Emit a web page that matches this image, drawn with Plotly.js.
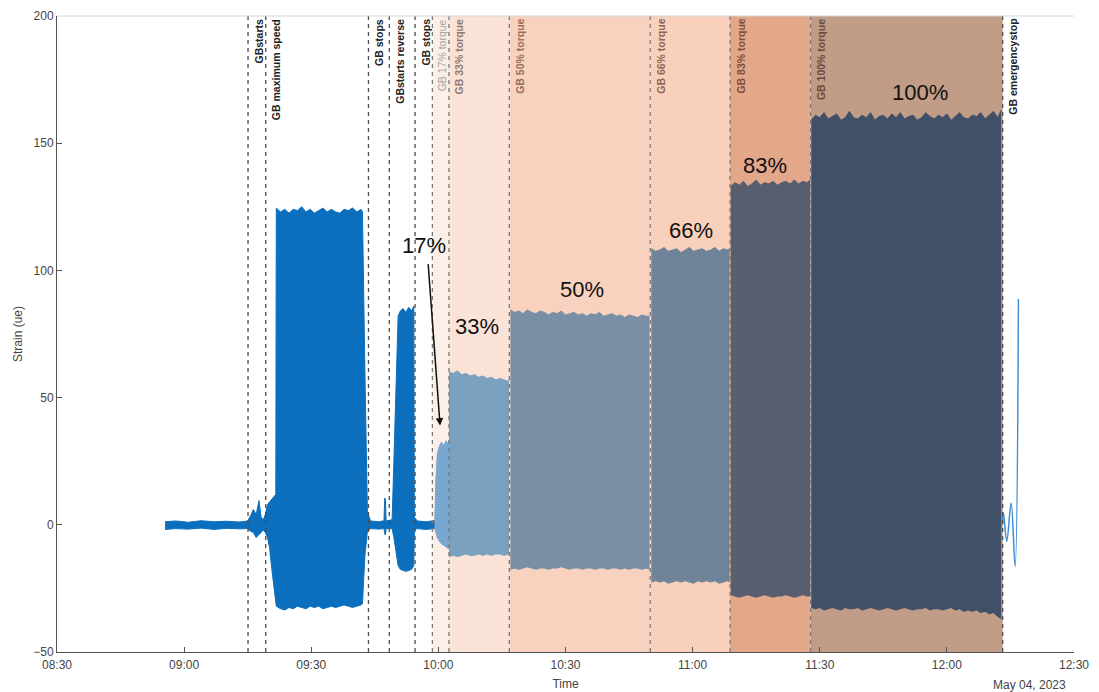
<!DOCTYPE html>
<html>
<head>
<meta charset="utf-8">
<script src="https://cdn.plot.ly/plotly-3.0.1.min.js"></script>
<style>html,body{margin:0;padding:0;background:#fff}#chart{width:1099px;height:692px}</style>
</head>
<body>
<div id="chart"></div>
<script>
const DAY = '2023-05-04 ';

// ---- Signal envelope (max / min strain) per test phase ----
const preTimes = ['08:55:30','08:58:00','09:01:00','09:04:00','09:07:00','09:10:00','09:13:00','09:15:00','09:15:40','09:16:20','09:17:00','09:17:40','09:18:10','09:18:40','09:19:10','09:19:40','09:20:10','09:20:40','09:21:10','09:21:38',
  '09:21:45','09:22:45','09:23:45','09:24:45','09:25:45','09:26:45','09:27:45','09:28:45','09:29:45','09:30:45','09:31:45','09:32:45','09:33:45','09:34:45','09:35:45','09:36:45','09:37:45','09:38:45','09:39:45','09:40:45','09:41:45',
  '09:42:05','09:42:40','09:43:15','09:44:00','09:46:00','09:47:10','09:47:20','09:47:30','09:47:40','09:48:40','09:49:05','09:49:30','09:50:00','09:50:30','09:51:00','09:51:40','09:52:20','09:53:00','09:53:40','09:54:12','09:54:20','09:55:00','09:57:00','09:59:10'];
const preUpper = [1.2,1.5,1.0,1.6,1.2,1.4,1.1,1.5,3.5,6,4,9.5,3,2,4,8,9,10,11,12,
  124.5,123,124,122.5,124,123.5,125,123,124,122.5,123.5,124.5,123,124,123,122.5,124,123.5,124.5,123,124,
  123,60,5,1.5,1.2,1.6,10.5,10,1.5,1.8,2,25,55,82,84,85,83.5,85.5,84,86,3,1.5,1.2,1.6];
const preLower = [-1.8,-1.5,-1.7,-1.3,-1.8,-1.4,-1.6,-1.5,-2.5,-3,-5,-4,-3,-2,-3,-5,-9,-17,-25,-30,
  -32,-33,-33.5,-32.5,-33,-32,-32.5,-33,-32,-32.5,-32,-33,-32.5,-32,-32.5,-32,-31.5,-32,-32.5,-32,-31.5,
  -31,-12,-2.5,-1.5,-1.7,-1.5,-3.5,-4,-1.5,-1.5,-1.5,-5,-11,-16,-17.5,-18,-18.3,-18,-17.5,-16,-2,-1.5,-1.8,-1.5];

const t17Times = ['09:59:10','09:59:25','09:59:45','10:00:15','10:00:45','10:01:15','10:01:45','10:02:15','10:02:30'];
const t17Upper = [2,18,28,31,32.5,31,33,32,33];
const t17Lower = [-1.5,-3,-5,-6.5,-7.5,-8,-8.5,-9,-9.5];

const t33Times = ['10:02:30','10:03:30','10:04:30','10:05:30','10:06:30','10:07:30','10:08:30','10:09:30','10:10:30','10:11:30','10:12:30','10:13:30','10:14:30','10:15:30','10:16:20','10:16:40'];
const t33Upper = [60,59.5,60.5,59,59.5,58.5,59,58,58.5,57.5,58,57,57.5,57,56.5,57];
const t33Lower = [-12.5,-12,-12.5,-12,-11.5,-12,-12,-11.5,-12,-11.5,-12,-11.5,-11.5,-12,-11.5,-11.5];

const t50Times = ['10:17:00','10:18:00','10:19:00','10:20:00','10:21:00','10:22:00','10:23:00','10:24:00','10:25:00','10:26:00','10:27:00','10:28:00','10:29:00','10:30:00','10:31:00','10:32:00','10:33:00','10:34:00','10:35:00','10:36:00','10:37:00','10:38:00','10:39:00','10:40:00','10:41:00','10:42:00','10:43:00','10:44:00','10:45:00','10:46:00','10:47:00','10:48:00','10:49:00','10:49:50'];
const t50Upper = [84.5,83.5,84,83,84.5,83.5,83,84,83.5,82.5,83.5,83,84,82.5,83,83.5,82.5,83,82,83,82.5,83.5,82,82.5,83,82,82.5,81.5,82.5,82,81.5,82.5,82,82];
const t50Lower = [-17.5,-17,-17.5,-17,-16.5,-17,-17.5,-17,-17,-17.5,-17,-17,-16.5,-17,-17.5,-17,-17,-17.5,-17,-17,-17.5,-17,-17,-17.5,-17,-17,-17.5,-17,-17.5,-17,-17,-17.5,-17,-17.5];

const t66Times = ['10:50:15','10:51:15','10:52:15','10:53:15','10:54:15','10:55:15','10:56:15','10:57:15','10:58:15','10:59:15','11:00:15','11:01:15','11:02:15','11:03:15','11:04:15','11:05:15','11:06:15','11:07:15','11:08:15','11:08:45'];
const t66Upper = [108.5,107.5,108,109,107.5,108,108.5,107,108,109,107.5,108,108.5,107.5,108,109,107.5,108.5,108,108.5];
const t66Lower = [-22.5,-22,-22.5,-22,-23,-22.5,-22,-22.5,-22,-22.5,-23,-22,-22.5,-22,-22.5,-22,-23,-22.5,-22,-22.5];

const t83Times = ['11:09:00','11:10:00','11:11:00','11:12:00','11:13:00','11:14:00','11:15:00','11:16:00','11:17:00','11:18:00','11:19:00','11:20:00','11:21:00','11:22:00','11:23:00','11:24:00','11:25:00','11:26:00','11:27:00','11:27:45'];
const t83Upper = [133,134.5,133.5,135,133,134,135.5,133.5,134.5,134,135,133.5,134.5,135,134,135.5,134,135,134.5,135.5];
const t83Lower = [-27.5,-28,-28.5,-28,-27.5,-28,-28.5,-28,-27.5,-28,-28.5,-28,-28,-27.5,-28,-28.5,-28,-27.5,-28,-28];

const t100Times = ['11:28:00','11:29:00','11:30:00','11:31:00','11:32:00','11:33:00','11:34:00','11:35:00','11:36:00','11:37:00','11:38:00','11:39:00','11:40:00','11:41:00','11:42:00','11:43:00','11:44:00','11:45:00','11:46:00','11:47:00','11:48:00','11:49:00','11:50:00','11:51:00','11:52:00','11:53:00','11:54:00','11:55:00','11:56:00','11:57:00','11:58:00','11:59:00','12:00:00','12:01:00','12:02:00','12:03:00','12:04:00','12:05:00','12:06:00','12:07:00','12:08:00','12:09:00','12:10:00','12:11:00','12:12:00','12:12:50'];
const t100Upper = [159,161,160,162,159.5,160.5,161.5,159,160,162.5,160,159.5,161,160,162,159,160.5,161,159.5,161.5,160,162,159.5,160.5,161,159,160,162,160.5,159.5,161,160,161.5,159,160.5,162,160,159.5,161,160.5,162,159.5,161,162.5,160,163];
const t100Lower = [-32.5,-33,-32.5,-33.5,-33,-32.5,-33,-33.5,-32.5,-33,-33,-32.5,-33.5,-33,-32.5,-33,-33.5,-33,-32.5,-33,-33.5,-33,-32.5,-33,-33.5,-33,-33,-32.5,-33.5,-33,-33,-33.5,-33,-32.5,-33.5,-33,-34,-33.5,-34,-33.5,-34.5,-34,-35,-34.5,-36,-37];

const postTimes = ['12:13:05','12:13:20','12:14:08','12:15:10','12:16:06','12:16:53'];
const postValues = [0,4.7,-6.5,8.6,-16.4,88.8];

// ---- Events ----
const eventTimes = ['09:15:05','09:19:15','09:43:30','09:48:25','09:54:30','09:58:35','10:02:30','10:16:45','10:50:00','11:08:50','11:27:50','12:13:10'];
const eventLabels = ['GBstarts','GB maximum speed','GB stops','GBstarts reverse','GB stops','GB 17% torque','GB 33% torque','GB 50% torque','GB 66% torque','GB 83% torque','GB 100% torque','GB emergencystop'];

// ---- Torque phases ----
const phaseStarts = ['09:58:35','10:02:30','10:16:45','10:50:00','11:08:50','11:27:50'];
const phaseEnds   = ['10:02:30','10:16:45','10:50:00','11:08:50','11:27:50','12:13:10'];
const phaseLabels = ['17%','33%','50%','66%','83%','100%'];
const phaseLabelTimes = ['09:56:37','10:09:08','10:33:55','10:59:38','11:17:06','11:53:40'];
const phaseLabelValues = [109.7,77.8,92.4,115.6,141.1,169.8];

// ---- Styles ----
const segColors = ['#0b6fbd','#78a8cf','#7aa1c0','#798fa5','#6f8499','#585e6d','#3f5068'];
const shadeColors = ['#fcefe7','#fbe2d6','#f8d2be','#f8d0bb','#e3a789','#c19c86'];
const labelColors = ['#222','#222','#222','#222','#222','#a3a3a3','#8d7a72','#9a6d5a','#8f6653','#7d4e3b','#6d4b3c','#222'];
const labelWeights = ['bold','bold','bold','bold','bold','normal','bold','bold','bold','bold','bold','bold'];

const ts = a => a.map(t => DAY + t);

const segs = [
  [preTimes, preUpper, preLower],
  [t17Times, t17Upper, t17Lower],
  [t33Times, t33Upper, t33Lower],
  [t50Times, t50Upper, t50Lower],
  [t66Times, t66Upper, t66Lower],
  [t83Times, t83Upper, t83Lower],
  [t100Times, t100Upper, t100Lower]
];

const traces = [];
segs.forEach((s, i) => {
  traces.push({x: ts(s[0]), y: s[2], type: 'scatter', mode: 'lines',
    line: {color: segColors[i], width: 1}, hoverinfo: 'skip', showlegend: false});
  traces.push({x: ts(s[0]), y: s[1], type: 'scatter', mode: 'lines', fill: 'tonexty',
    fillcolor: segColors[i], line: {color: segColors[i], width: 1}, hoverinfo: 'skip', showlegend: false});
});
traces.push({x: ts(postTimes), y: postValues, type: 'scatter', mode: 'lines',
  line: {color: '#3f8fd4', width: 1.5, shape: 'spline'}, showlegend: false});

const shapes = [];
phaseStarts.forEach((s, i) => {
  shapes.push({type: 'rect', layer: 'below', xref: 'x', yref: 'paper',
    x0: DAY + s, x1: DAY + phaseEnds[i], y0: 0, y1: 1, fillcolor: shadeColors[i], line: {width: 0}});
});
eventTimes.forEach((t, i) => {
  shapes.push({type: 'line', layer: 'above', xref: 'x', yref: 'paper',
    x0: DAY + t, x1: DAY + t, y0: 0, y1: 1,
    line: {color: i < 5 || i === 11 ? '#4d4d4d' : '#7a7a7a', width: 1.3, dash: '4px,4px'}});
});
shapes.push({type: 'line', xref: 'paper', yref: 'paper', x0: 0, x1: 1, y0: 1, y1: 1,
  line: {color: '#d6d6d6', width: 1}});

const annotations = [];
eventTimes.forEach((t, i) => {
  annotations.push({x: DAY + t, y: 1, xref: 'x', yref: 'paper', xanchor: 'left', yanchor: 'top',
    xshift: 2, yshift: -1, textangle: -90, showarrow: false, text: eventLabels[i],
    font: {family: 'Arial, Liberation Sans, sans-serif', size: 10.5, color: labelColors[i], weight: labelWeights[i]}});
});
phaseLabels.forEach((p, i) => {
  annotations.push({x: DAY + phaseLabelTimes[i], y: phaseLabelValues[i], xref: 'x', yref: 'y',
    showarrow: false, text: p, font: {family: 'Arial, Liberation Sans, sans-serif', size: 22, color: '#111'}});
});
annotations.push({x: DAY + '10:00:24', y: 39, xref: 'x', yref: 'y', text: '', showarrow: true,
  ax: -12, ay: -163, arrowhead: 2, arrowsize: 1, arrowwidth: 1.5, arrowcolor: '#111'});
annotations.push({x: 1, y: 0, xref: 'paper', yref: 'paper', xanchor: 'right', yanchor: 'top',
  xshift: -6, yshift: -24, showarrow: false, text: 'May 04, 2023',
  font: {family: 'Arial, Liberation Sans, sans-serif', size: 12, color: '#444'}});

const layout = {
  width: 1099, height: 692,
  margin: {l: 57, r: 25, t: 16, b: 40},
  paper_bgcolor: '#fff', plot_bgcolor: '#fff',
  showlegend: false,
  font: {family: 'Arial, Liberation Sans, sans-serif', size: 12, color: '#444'},
  xaxis: {type: 'date', range: [DAY + '08:30', DAY + '12:30'], dtick: 1800000,
    tick0: DAY + '08:30', tickformat: '%H:%M', ticks: 'inside', ticklen: 5, tickcolor: '#555',
    showline: true, linecolor: '#555', linewidth: 1, showgrid: false, zeroline: false,
    ticklabelstandoff: 2,
    tickfont: {size: 12, color: '#444'},
    title: {text: 'Time', standoff: 8, font: {size: 12, color: '#444'}}},
  yaxis: {range: [-50, 200], dtick: 50, ticks: 'inside', ticklen: 5, tickcolor: '#555',
    showline: true, linecolor: '#555', linewidth: 1, showgrid: false, zeroline: false,
    tickfont: {size: 12, color: '#444'},
    title: {text: 'Strain (ue)', standoff: 8, font: {size: 12, color: '#444'}}},
  shapes: shapes,
  annotations: annotations
};

Plotly.newPlot('chart', traces, layout, {displayModeBar: false, staticPlot: true});
</script>
</body>
</html>
